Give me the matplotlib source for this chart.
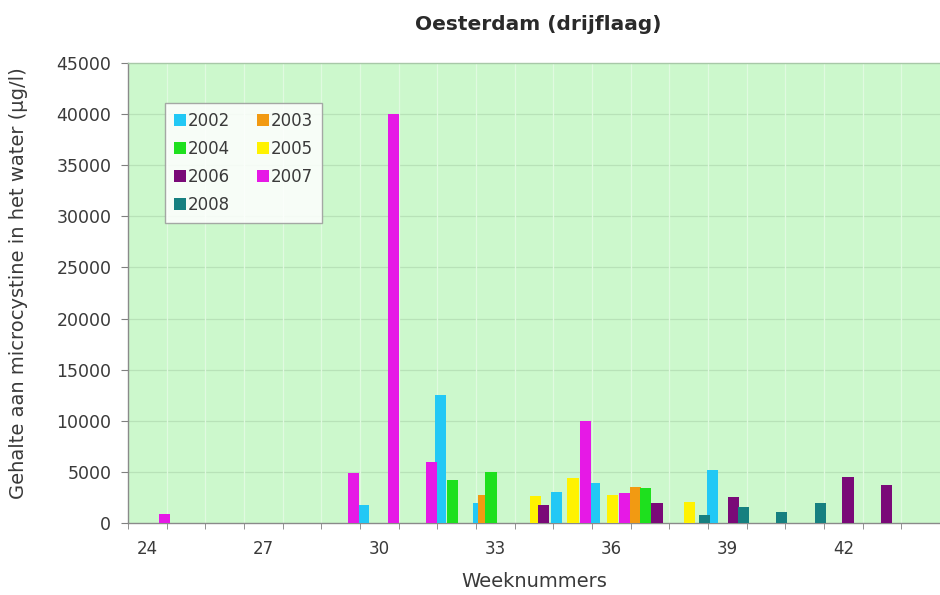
import matplotlib
matplotlib.use("Agg")
import matplotlib.pyplot as plt
import numpy as np

# ---- data (week positions of samples, microcystine values) ----
years = ["2002", "2003", "2004", "2005", "2006", "2007", "2008"]
weeks_2002 = [29.59, 31.58, 32.58, 34.58, 35.57, 38.61]
vals_2002 = [1800, 12500, 2000, 3000, 3900, 5200]
weeks_2003 = [32.70, 36.62]
vals_2003 = [2700, 3500]
weeks_2004 = [31.89, 32.89, 36.88]
vals_2004 = [4200, 5000, 3400]
weeks_2005 = [34.04, 35.01, 36.03, 38.03]
vals_2005 = [2600, 4400, 2700, 2100]
weeks_2006 = [34.24, 37.18, 39.15, 42.12, 43.12]
vals_2006 = [1800, 2000, 2500, 4500, 3700]
weeks_2007 = [24.45, 29.33, 30.36, 31.35, 35.34, 36.34]
vals_2007 = [900, 4900, 40000, 6000, 10000, 2900]
weeks_2008 = [38.41, 39.41, 40.41, 41.40]
vals_2008 = [800, 1600, 1100, 2000]

x_tick_labels = ["24", "27", "30", "33", "36", "39", "42"]
y_ticks = [0, 5000, 10000, 15000, 20000, 25000, 30000, 35000, 40000, 45000]

colors = ["#22C8F5", "#F29A12", "#1EE01E", "#FFF200", "#7A0A78", "#E619E6", "#168080"]
series = [(weeks_2002, vals_2002), (weeks_2003, vals_2003), (weeks_2004, vals_2004),
          (weeks_2005, vals_2005), (weeks_2006, vals_2006), (weeks_2007, vals_2007),
          (weeks_2008, vals_2008)]

plt.rcParams["font.family"] = ["DejaVu Sans"]

fig = plt.figure(figsize=(9.4, 5.95), dpi=100)
fig.patch.set_facecolor("white")
ax = fig.add_axes([128 / 940, 1 - 523 / 595, 1 - 128 / 940, (523 - 63) / 595])
ax.set_facecolor("#CCF8CC")

bar_w = 0.29
handles = []
for yr, (wk, vl), c in zip(years, series, colors):
    h = ax.bar(wk, vl, width=bar_w, color=c, edgecolor="none", zorder=3, label=yr)
    handles.append(h)

ax.set_xlim(23.565, 44.33)
ax.set_ylim(0, 45000)

# grid
ax.set_yticks(y_ticks)
ax.set_yticklabels([str(v) for v in y_ticks])
for v in y_ticks[1:-1]:
    ax.axhline(v, color="#B8E2B8", lw=0.9, zorder=1)
for b in np.arange(24.5, 44.5, 1.0):
    ax.axvline(b, color="#E0FAE0", lw=0.9, zorder=1)

xt = [float(s) for s in x_tick_labels]
ax.set_xticks(xt)
ax.set_xticklabels(x_tick_labels)
ax.set_xticks(np.arange(23.5, 44.6, 1.0), minor=True)
ax.tick_params(axis="x", which="major", length=0, pad=12, labelsize=12, labelcolor="#3a3a3a")
ax.tick_params(axis="x", which="minor", length=4, color="#808080", direction="out")
ax.tick_params(axis="y", which="major", length=5, color="#808080", pad=7, labelsize=12.5,
               labelcolor="#3a3a3a")

for s in ["left", "bottom", "top"]:
    ax.spines[s].set_color("#8a8a8a")
    ax.spines[s].set_linewidth(1.0)
ax.spines["right"].set_visible(False)
ax.spines["top"].set_color("#A8C8A8")

ax.set_xlabel("Weeknummers", fontsize=14, color="#3a3a3a", labelpad=10)
ax.set_ylabel("Gehalte aan microcystine in het water (µg/l)", fontsize=14,
              color="#3a3a3a")
ax.yaxis.set_label_coords(-0.123, 0.522)

fig.text(538 / 940, 1 - 25 / 595, "Oesterdam (drijflaag)", ha="center", va="center",
         fontsize=14.5, fontweight="bold", color="#2a2a2a")

order = [0, 2, 4, 6, 1, 3, 5]
leg = ax.legend([handles[i] for i in order], [years[i] for i in order], ncol=2,
                loc="upper left", bbox_to_anchor=(0.045, 0.913), borderaxespad=0,
                fontsize=12, frameon=True, fancybox=False, handlelength=0.75,
                handleheight=0.75, handletextpad=0.1, columnspacing=1.6,
                labelspacing=0.6, borderpad=0.55, labelcolor="#3a3a3a")
leg.get_frame().set_edgecolor("#9a9a9a")
leg.get_frame().set_facecolor("white")
leg.get_frame().set_alpha(0.85)
leg.set_zorder(5)

fig.savefig("out.png", dpi=100, facecolor="white")
